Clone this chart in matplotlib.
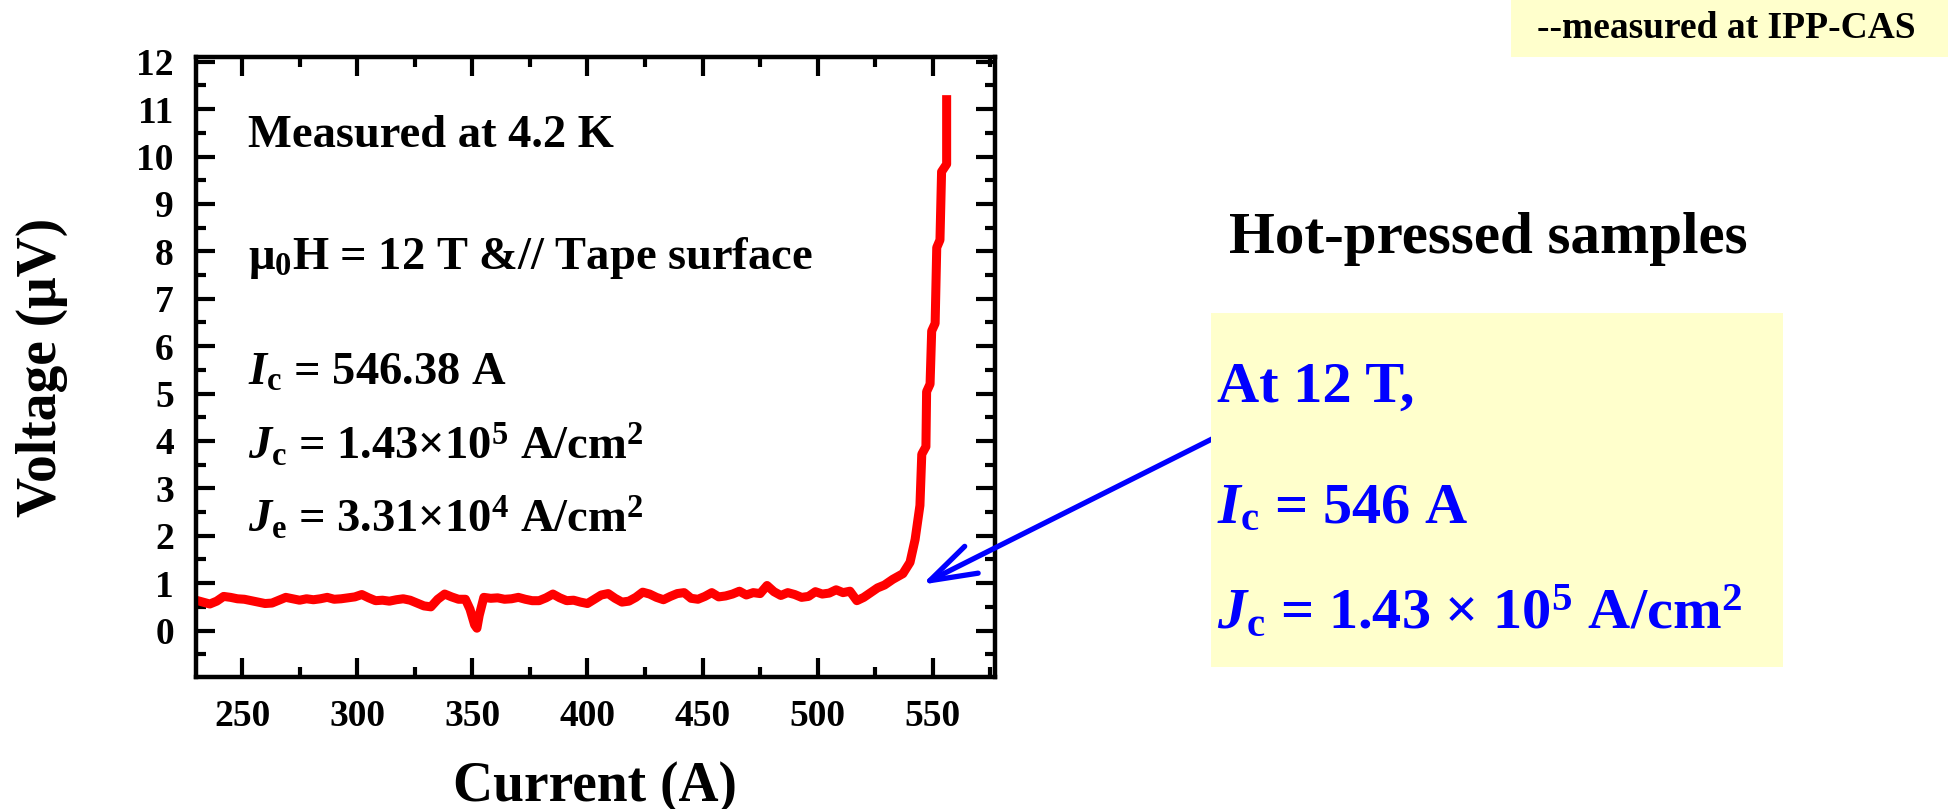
import matplotlib
matplotlib.use("Agg")
import matplotlib.pyplot as plt
from matplotlib.patches import Rectangle
from matplotlib.ticker import MultipleLocator

# V-I data (current in A, voltage in uV)
current = [
    230, 233, 236, 239, 242, 245, 248, 251, 254, 257,
    260, 263, 266, 269, 272, 275, 278, 281, 284, 287,
    290, 293, 296, 299, 302, 305, 308, 311, 314, 317,
    320, 323, 326, 329, 332, 335, 338, 341, 344, 347,
    349, 351, 352, 353,
    355, 358, 361, 364, 367, 370, 373, 376, 379, 382,
    385, 388, 391, 394, 397, 400, 403, 406, 409, 412,
    415, 418, 421, 424, 427, 430, 433, 436, 439, 442,
    445, 448, 451, 454, 457, 460, 463, 466, 469, 472,
    475, 478, 481, 484, 487, 490, 493, 496, 499, 502,
    505, 508, 511, 514,
    517, 520, 523, 526, 529,
    532.6, 537, 540.1, 542.3, 544.4, 545.2, 547.0, 547.3, 548.8, 549.5,
    551.0, 551.7, 553.1, 553.8, 556.0, 556.0,
]
voltage = [
    0.64, 0.60, 0.56, 0.62, 0.72, 0.70, 0.67, 0.66, 0.63, 0.60,
    0.57, 0.58, 0.64, 0.70, 0.67, 0.64, 0.67, 0.65, 0.67, 0.70,
    0.66, 0.67, 0.69, 0.71, 0.76, 0.69, 0.63, 0.64, 0.62, 0.65,
    0.67, 0.64, 0.58, 0.52, 0.50, 0.66, 0.77, 0.71, 0.66, 0.66,
    0.45, 0.12, 0.05, 0.32,
    0.70, 0.68, 0.69, 0.66, 0.67, 0.70, 0.66, 0.63, 0.63, 0.69,
    0.77, 0.69, 0.63, 0.64, 0.60, 0.57, 0.66, 0.75, 0.78, 0.68,
    0.60, 0.62, 0.70, 0.81, 0.77, 0.70, 0.65, 0.72, 0.78, 0.80,
    0.68, 0.66, 0.72, 0.80, 0.71, 0.73, 0.77, 0.83, 0.75, 0.80,
    0.78, 0.95, 0.82, 0.74, 0.80, 0.76, 0.70, 0.72, 0.82, 0.77,
    0.79, 0.86, 0.80, 0.83,
    0.63, 0.70, 0.80, 0.90, 0.96,
    1.08, 1.20, 1.44, 1.92, 2.64, 3.72, 3.88, 5.04, 5.20, 6.32,
    6.48, 8.08, 8.24, 9.68, 9.84, 11.2,
]

x_ticks = [250, 300, 350, 400, 450, 500, 550]
y_ticks = list(range(0, 13))

inner_lines = [
    "Measured at 4.2 K",
    "μ$_0$H = 12 T &// Tape surface",
    r"$\mathit{I}_{\mathrm{c}}$ = 546.38 A",
    r"$\mathit{J}_{\mathrm{c}}$ = 1.43×10$^5$ A/cm$^2$",
    r"$\mathit{J}_{\mathrm{e}}$ = 3.31×10$^4$ A/cm$^2$",
]
box_lines = [
    "At 12 T,",
    r"$\mathit{I}_{\mathrm{c}}$ = 546 A",
    r"$\mathit{J}_{\mathrm{c}}$ = 1.43 × 10$^5$ A/cm$^2$",
]
ic_point = (545.3, 0.97)

W, H = 1949, 809
plt.rcParams["font.family"] = "Liberation Serif"
plt.rcParams["font.weight"] = "bold"
plt.rcParams["mathtext.fontset"] = "custom"
plt.rcParams["mathtext.rm"] = "Liberation Serif:bold"
plt.rcParams["mathtext.it"] = "Liberation Serif:italic:bold"
plt.rcParams["mathtext.bf"] = "Liberation Serif:bold"


def px(x, y):
    # pixel position in the picture -> figure fraction
    return x / W, 1 - y / H


fig = plt.figure(figsize=(W / 100, H / 100), dpi=100)
ax = fig.add_axes([196 / W, 1 - 677 / H, (995 - 196) / W, (677 - 57) / H])

ax.plot(current, voltage, color="#ff0000", lw=6.5, solid_joinstyle="round")
ax.set_xlim(230, 577)
ax.set_ylim(-0.98, 12.1)
ax.set_xticks(x_ticks)
ax.set_yticks(y_ticks)
ax.xaxis.set_minor_locator(MultipleLocator(25))
ax.yaxis.set_minor_locator(MultipleLocator(0.5))
ax.tick_params(which="both", direction="in", top=True, right=True, width=3)
ax.tick_params(which="major", length=14, labelsize=27, pad=16)
ax.tick_params(which="minor", length=7)
for s in ax.spines.values():
    s.set_linewidth(3.2)

ax.set_xlabel("Current (A)", fontsize=40, fontweight="bold")
ax.set_ylabel("Voltage (μV)", fontsize=40, fontweight="bold")
ax.xaxis.set_label_coords(0.5, -0.135)
ax.yaxis.set_label_coords(-0.16, 0.5)

baselines = [147, 269, 385, 459, 532]
for line, yb in zip(inner_lines, baselines):
    fig.text(*px(248, yb), line, fontsize=33.5, va="baseline", ha="left")

# yellow panels
fig.patches.append(Rectangle(px(1211, 667), (1783 - 1211) / W, (667 - 313) / H,
                             transform=fig.transFigure, facecolor="#ffffcc",
                             edgecolor="none", zorder=0))
fig.patches.append(Rectangle(px(1511, 57), (W - 1511) / W, 57 / H,
                             transform=fig.transFigure, facecolor="#ffffcc",
                             edgecolor="none", zorder=0))

fig.text(*px(1726, 29), "--measured at IPP-CAS", fontsize=27, ha="center", va="center")
fig.text(*px(1488, 253), "Hot-pressed samples", fontsize=42.5, ha="center", va="baseline")

for line, yb in zip(box_lines, [402, 523, 628]):
    fig.text(*px(1217, yb), line, fontsize=42, color="#0000ff", va="baseline", ha="left")

ax.annotate("", xy=ic_point, xycoords="data",
            xytext=px(1212, 439), textcoords="figure fraction",
            annotation_clip=False,
            arrowprops=dict(arrowstyle="->,head_length=1.4,head_width=0.45",
                            color="#0000ff", lw=3.8, mutation_scale=24,
                            shrinkA=0, shrinkB=0))

fig.savefig("out.png", dpi=100)
